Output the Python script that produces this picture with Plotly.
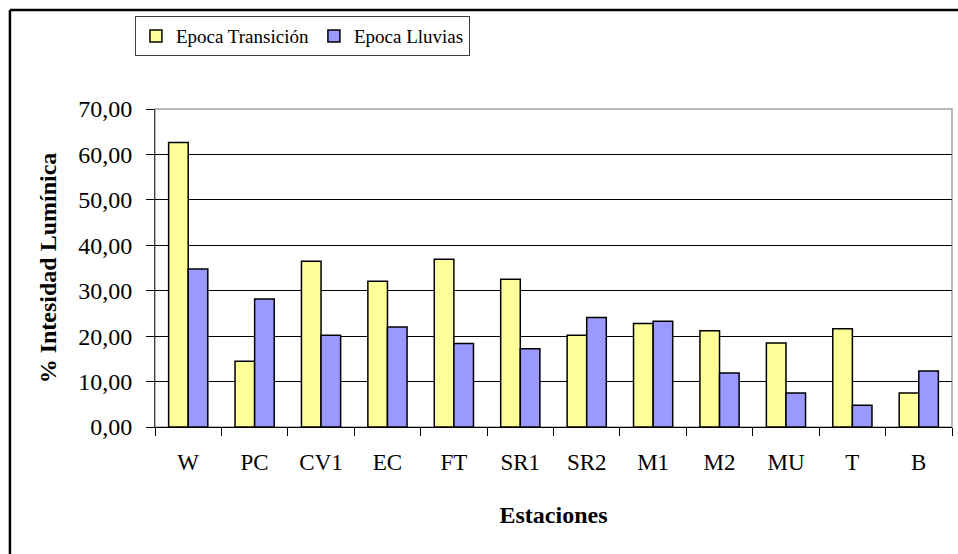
import plotly.graph_objects as go

estaciones = ["W", "PC", "CV1", "EC", "FT", "SR1", "SR2", "M1", "M2", "MU", "T", "B"]
epoca_transicion = [62.6, 14.5, 36.5, 32.1, 36.9, 32.5, 20.2, 22.8, 21.2, 18.5, 21.6, 7.5]
epoca_lluvias = [34.8, 28.2, 20.2, 22.0, 18.4, 17.2, 24.1, 23.3, 11.9, 7.5, 4.8, 12.3]

serif = "Liberation Serif, Times New Roman, serif"

fig = go.Figure()
fig.add_trace(go.Bar(x=estaciones, y=epoca_transicion, name="Epoca Transición",
                     marker=dict(color="#FFFF99", line=dict(color="black", width=1.5))))
fig.add_trace(go.Bar(x=estaciones, y=epoca_lluvias, name="Epoca Lluvias",
                     marker=dict(color="#9999FF", line=dict(color="black", width=1.5))))

fig.update_layout(
    width=958, height=554,
    margin=dict(l=155, r=6, t=109, b=127),
    paper_bgcolor="white", plot_bgcolor="white",
    font=dict(family=serif, color="black", size=22),
    separators=",.",
    barmode="group", bargap=0.41, bargroupgap=0,
    showlegend=True,
    legend=dict(orientation="h", x=0.185, y=1.292, xanchor="center", yanchor="top",
                font=dict(size=19), bordercolor="#404040", borderwidth=1,
                itemwidth=30, tracegroupgap=0),
)

fig.update_xaxes(
    title=dict(text="<b>Estaciones</b>", font=dict(size=24), standoff=32),
    tickfont=dict(size=23), ticklabelstandoff=14,
    showline=True, linecolor="black", linewidth=1,
    ticks="outside", tickson="boundaries", ticklen=8, tickcolor="black",
    showgrid=False,
)
fig.update_yaxes(
    title=dict(text="<b>% Intesidad Lumínica</b>", font=dict(size=24), standoff=14),
    tickfont=dict(size=24), ticklabelstandoff=9,
    range=[0, 70], dtick=10, tickformat=".2f",
    showline=True, linecolor="#404040", linewidth=1,
    ticks="outside", ticklen=8, tickcolor="black",
    showgrid=True, gridcolor="black", gridwidth=1,
    zeroline=False,
)

# grey frame of the plot area (top and right)
fig.add_shape(type="rect", xref="paper", yref="paper", x0=0, x1=1, y0=0, y1=1,
              line=dict(color="#a0a0a0", width=1.5), layer="below")
# outer chart border, only left and top visible
fig.add_shape(type="line", xref="paper", yref="paper", x0=-0.182, x1=-0.182, y0=-1, y1=1.311,
              line=dict(color="black", width=2.5))
fig.add_shape(type="line", xref="paper", yref="paper", x0=-0.182, x1=1.2, y0=1.311, y1=1.311,
              line=dict(color="black", width=2.5))

fig.write_html("out.html", config={"displayModeBar": False},
               post_script="document.body.style.margin='0';")
